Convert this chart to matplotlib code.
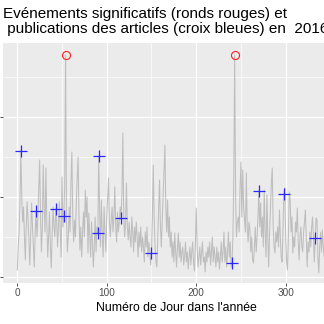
import matplotlib
matplotlib.use("Agg")
import matplotlib.pyplot as plt
from matplotlib.ticker import MultipleLocator
import numpy as np

# Daily activity level, day 0 .. 365 of 2016
activity = [
    7, 30, 45, 75, 126, 80, 55, 70, 40, 17,
    50, 75, 60, 35, 12, 45, 74, 50, 30, 10,
    45, 66, 40, 60, 90, 117, 60, 25, 50, 112,
    70, 45, 109, 55, 20, 40, 65, 30, 9, 45,
    70, 50, 40, 68, 55, 30, 50, 75, 45, 20,
    100, 50, 61, 90, 222, 60, 25, 40, 70, 45,
    95, 125, 60, 35, 57, 40, 75, 100, 120, 60,
    27, 50, 20, 45, 65, 40, 87, 60, 80, 24,
    64, 40, 20, 55, 35, 10, 30, 60, 25, 50,
    44, 121, 70, 30, 77, 40, 20, 70, 45, 25,
    60, 80, 99, 55, 40, 57, 70, 45, 60, 90,
    50, 35, 65, 45, 55, 70, 59, 85, 144, 60,
    40, 55, 94, 50, 37, 55, 40, 30, 60, 45,
    25, 50, 35, 55, 40, 20, 45, 30, 50, 25,
    40, 30, 15, 45, 30, 50, 20, 35, 25, 12,
    24, 60, 112, 60, 30, 15, 10, 40, 70, 97,
    50, 30, 55, 80, 105, 132, 70, 45, 77, 40,
    60, 30, 45, 20, 35, 15, 44, 25, 10, 30,
    44, 20, 35, 15, 25, 30, 12, 20, 35, 15,
    25, 8, 20, 30, 12, 25, 35, 15, 6, 30,
    69, 30, 10, 20, 30, 12, 25, 35, 15, 20,
    5, 25, 15, 30, 20, 35, 12, 25, 40, 15,
    30, 20, 10, 30, 15, 25, 8, 20, 35, 15,
    25, 45, 15, 30, 10, 25, 45, 20, 35, 10,
    14, 40, 100, 222, 80, 40, 55, 60, 45, 90,
    115, 60, 107, 70, 57, 45, 104, 50, 35, 55,
    47, 25, 40, 17, 14, 30, 50, 25, 40, 60,
    86, 50, 74, 40, 60, 30, 87, 45, 20, 82,
    40, 10, 45, 70, 95, 109, 50, 30, 24, 45,
    35, 50, 30, 67, 40, 20, 15, 50, 83, 89,
    40, 15, 7, 40, 85, 77, 45, 60, 24, 40,
    30, 55, 45, 69, 35, 17, 40, 50, 30, 25,
    45, 55, 67, 40, 10, 35, 25, 45, 30, 50,
    60, 40, 15, 39, 59, 57, 20, 4, 30, 45,
    25, 47, 30, 20, 40, 30, 15, 45, 25, 35,
    20, 40, 15, 30, 45, 25, 20, 35, 15, 40,
    25, 30, 20, 45, 30, 25,
]
days = list(range(len(activity)))

# Significant events (red circles) and article publication days (blue crosses)
event_days = [54, 243]
article_days = [4, 21, 43, 52, 90, 91, 116, 150, 240, 270, 298, 333]

event_vals = [activity[d] for d in event_days]
article_vals = [activity[d] for d in article_days]

x_major = [0, 100, 200, 300]
x_minor = [50, 150, 250, 350]

plt.rcParams['font.family'] = ['Liberation Sans', 'DejaVu Sans']

W, H = 324, 324
fig = plt.figure(figsize=(W / 100, H / 100), dpi=100)
fig.patch.set_facecolor('white')

xmin, xmax = -16.3, 372.6
px_per_day = 0.8947
ax = fig.add_axes([2.7 / W, (H - 283) / H, (xmax - xmin) * px_per_day / W, 240 / H])
ax.set_facecolor('#EBEBEB')
for s in ax.spines.values():
    s.set_visible(False)

ax.plot(days, activity, color='#BEBEBE', lw=0.75, zorder=2)
ax.plot(event_days, event_vals, linestyle='none', marker='o', mfc='none',
        mec='#FF2020', ms=5.8, mew=0.8, zorder=3)
ax.plot(article_days, article_vals, linestyle='none', marker='+',
        color='#2828FF', ms=9, mew=0.9, zorder=3)

ax.set_xlim(xmin, xmax)
ax.set_ylim(-6, 234)
ax.set_xticks(x_major)
ax.set_xticks(x_minor, minor=True)
ax.yaxis.set_major_locator(MultipleLocator(80))
ax.yaxis.set_minor_locator(MultipleLocator(40))

ax.grid(which='major', color='white', lw=0.9)
ax.grid(which='minor', color='white', lw=0.45)
ax.set_axisbelow(True)

ax.tick_params(which='major', direction='out', length=2.1, width=0.6,
               color='#333333', labelsize=7.2, labelcolor='#4D4D4D', pad=1.8)
ax.tick_params(axis='y', labelleft=False)
ax.tick_params(which='minor', length=0)

ax.set_xlabel("Numéro de Jour dans l'année", fontsize=8.8, color='black', labelpad=2.5)

fig.text(2.7 / W, 1 - 18.3 / H, "Evénements significatifs (ronds rouges) et",
         fontsize=11, ha='left', va='baseline', color='black')
fig.text(2.7 / W, 1 - 33.3 / H, " publications des articles (croix bleues) en  2016",
         fontsize=11, ha='left', va='baseline', color='black')

fig.savefig('out.png', dpi=100)
